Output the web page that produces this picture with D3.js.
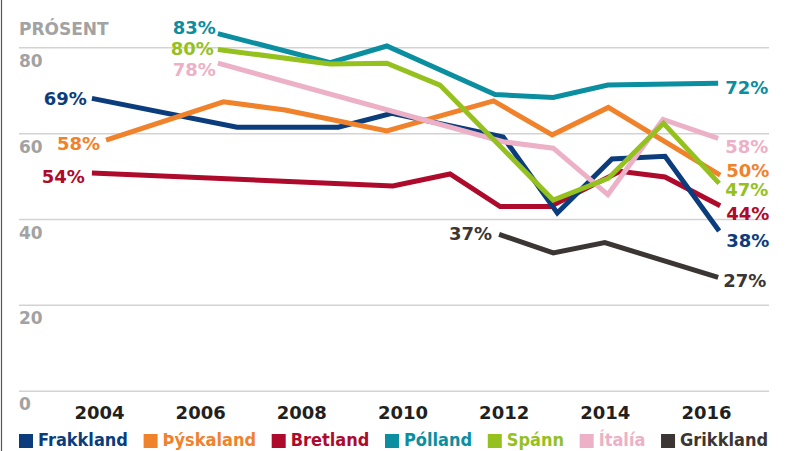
<!DOCTYPE html>
<html>
<head>
<meta charset="utf-8">
<script src="https://cdn.jsdelivr.net/npm/d3@7"></script>
<style>
  body { margin: 0; background: #fff; }
  svg { display: block; }
  text { font-family: "DejaVu Sans", sans-serif; font-weight: bold; }
  .legend text { font-family: "DejaVu Sans Condensed", "DejaVu Sans", sans-serif; font-stretch: condensed; }
</style>
</head>
<body>
<div id="chart"></div>
<script>
const width = 789;
const height = 451;

// [year position, percent]
const frakkland = [[2003.86, 68.1], [2006.73, 61.4], [2008.73, 61.4], [2009.79, 64.6], [2011.99, 59.1],
                   [2013.06, 41.4], [2014.14, 54.0], [2015.19, 54.6], [2016.26, 37.2]];
const thyskaland = [[2004.14, 58.4], [2006.46, 67.3], [2007.68, 65.4], [2009.69, 60.5], [2011.80, 67.5],
                    [2012.96, 59.6], [2014.07, 66.0], [2016.28, 50.2]];
const bretland = [[2003.86, 50.7], [2009.81, 47.7], [2010.94, 50.5], [2011.93, 42.9], [2012.92, 42.9],
                  [2014.30, 51.1], [2015.19, 49.8], [2016.28, 43.1]];
const polland = [[2006.35, 83.2], [2008.57, 76.4], [2009.69, 80.3], [2011.83, 69.0], [2012.98, 68.3],
                 [2014.06, 71.2], [2016.24, 71.6]];
const spann = [[2006.35, 79.5], [2008.57, 76.1], [2009.69, 76.3], [2010.74, 71.2], [2012.98, 44.4],
               [2014.07, 49.5], [2015.16, 62.3], [2016.26, 48.3]];
const italia = [[2006.35, 76.3], [2011.99, 58.0], [2012.98, 56.5], [2014.06, 45.7], [2015.15, 63.2],
                [2016.24, 58.8]];
const grikkland = [[2011.91, 36.4], [2012.98, 32.1], [2014.00, 34.5], [2016.24, 26.4]];

const countries = ["Frakkland", "Þýskaland", "Bretland", "Pólland", "Spánn", "Ítalía", "Grikkland"];
const startLabels = ["69%", "58%", "54%", "83%", "80%", "78%", "37%"];
const endLabels = ["38%", "50%", "44%", "72%", "47%", "58%", "27%"];
const xTicks = [2004, 2006, 2008, 2010, 2012, 2014, 2016];
const yTicks = [0, 20, 40, 60, 80];

const colors = ["#0b3d7d", "#f0822c", "#ad0a2c", "#0a8ea0", "#95c11f", "#ecb1c6", "#3b3634"];
const seriesData = [frakkland, thyskaland, bretland, polland, spann, italia, grikkland];

// label nudges relative to the line start / end [dx, dy]
const startNudge = [[-5, 0], [-6, 3], [-7, 3], [-2, -6], [-4, -1], [-2, 6], [-7, -1]];
const endNudge = [[7, 9], [6, -5], [6, 8], [7, 4], [6, 6], [7, 8], [5, 3]];

const x = d3.scaleLinear().domain([2004, 2016]).range([99, 706]);
const y = d3.scaleLinear().domain([0, 80]).range([390.7, 47.3]);

const svg = d3.select("#chart").append("svg")
    .attr("width", width)
    .attr("height", height);

// left border
svg.append("line")
    .attr("x1", 1.5).attr("x2", 1.5)
    .attr("y1", 0).attr("y2", height)
    .attr("stroke", "#555").attr("stroke-width", 1.2);

// y grid + labels
const yAxis = svg.append("g")
    .attr("transform", "translate(19,0)")
    .call(d3.axisRight(y).tickValues(yTicks).tickSize(750).tickPadding(0));
yAxis.select(".domain").remove();
yAxis.selectAll(".tick line").attr("stroke", "#d3d3d3").attr("stroke-width", 1.5);
yAxis.selectAll(".tick text")
    .attr("x", 0).attr("y", 19).attr("dy", null)
    .attr("text-anchor", "start")
    .attr("fill", "#a2a2a2")
    .style("font-size", "17px");

svg.append("text")
    .attr("x", 19).attr("y", 35)
    .attr("fill", "#a2a2a2")
    .style("font-size", "17px")
    .text("PRÓSENT");

// x labels
const xAxis = svg.append("g")
    .attr("transform", "translate(0,419)")
    .call(d3.axisBottom(x).tickValues(xTicks).tickFormat(d3.format("d")).tickSize(0).tickPadding(0));
xAxis.select(".domain").remove();
xAxis.selectAll(".tick text")
    .attr("y", 0).attr("dy", null)
    .attr("fill", "#231f20")
    .style("font-size", "18px");

// lines, drawn bottom to top
const line = d3.line().x(d => x(d[0])).y(d => y(d[1]));
const order = [6, 2, 0, 1, 3, 5, 4];
order.forEach(i => {
    svg.append("path")
        .datum(seriesData[i])
        .attr("d", line)
        .attr("fill", "none")
        .attr("stroke", colors[i])
        .attr("stroke-width", 5)
        .attr("stroke-linejoin", "miter");
});

// start and end labels
seriesData.forEach((s, i) => {
    const first = s[0];
    const last = s[s.length - 1];
    svg.append("text")
        .attr("x", x(first[0]) + startNudge[i][0])
        .attr("y", y(first[1]) + startNudge[i][1] + 6.5)
        .attr("text-anchor", "end")
        .attr("fill", colors[i])
        .style("font-size", "18px")
        .text(startLabels[i]);
    svg.append("text")
        .attr("x", x(last[0]) + endNudge[i][0])
        .attr("y", y(last[1]) + endNudge[i][1] + 6.5)
        .attr("fill", colors[i])
        .style("font-size", "18px")
        .text(endLabels[i]);
});

// legend, spread between 19 and 768
const legend = svg.append("g").attr("class", "legend");
const items = countries.map((c, i) => {
    const g = legend.append("g");
    g.append("rect")
        .attr("width", 14).attr("height", 14)
        .attr("y", 434)
        .attr("fill", colors[i]);
    const t = g.append("text")
        .attr("x", 19).attr("y", 446)
        .attr("fill", colors[i])
        .style("font-size", "18px")
        .text(c);
    return { g: g, w: 19 + t.node().getComputedTextLength() };
});
const total = d3.sum(items, d => d.w);
const gap = (768 - 19 - total) / (items.length - 1);
let pos = 19;
items.forEach(d => {
    d.g.attr("transform", `translate(${pos},0)`);
    pos += d.w + gap;
});
</script>
</body>
</html>
